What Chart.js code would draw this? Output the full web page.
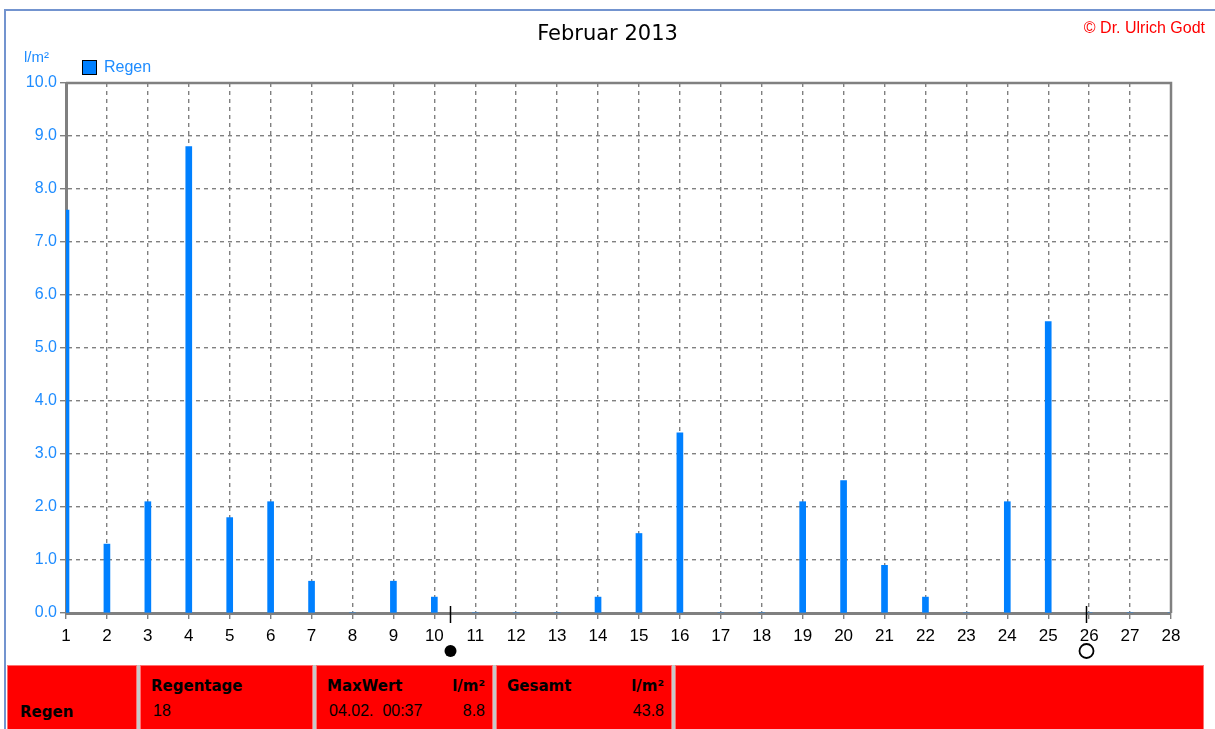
<!DOCTYPE html>
<html>
<head>
<meta charset="utf-8">
<script src="https://cdn.jsdelivr.net/npm/chart.js@4.4.1/dist/chart.umd.min.js"></script>
<style>
  html, body { margin: 0; padding: 0; background: #fff; }
  body { width: 1215px; height: 729px; position: relative; overflow: hidden; font-family: "Liberation Sans", Arial, sans-serif; }
  #frame { position: absolute; left: 4px; top: 9px; width: 1215px; height: 730px; border-left: 2px solid #7394cf; border-top: 2px solid #7394cf; }
  #wrap { position: absolute; left: 0; top: 0; width: 1215px; height: 664px; }
  .txt { position: absolute; white-space: nowrap; }
  #title { left: 0; width: 1215px; text-align: center; top: 21px; font-family: "DejaVu Sans", sans-serif; font-size: 21px; color: #000; }
  #copy { right: 10px; top: 19px; font-size: 16px; color: #ff0000; }
  #unit { left: 24px; top: 48px; font-size: 15px; color: #1e8cff; }
  #legbox { position: absolute; left: 82px; top: 60px; width: 13px; height: 13px; background: #0080ff; border: 1px solid #000; }
  #legtxt { left: 104px; top: 58px; font-size: 16px; color: #1e8cff; }
  #table { position: absolute; left: 7px; top: 665px; width: 1197px; height: 70px; background: #c8c8c8; }
  .cell { position: absolute; top: 0; height: 70px; background: #ff0000; box-sizing: border-box; border: 1px solid #ff7070; }
  .b { position: absolute; font-family: "DejaVu Sans", sans-serif; font-weight: bold; font-size: 15px; color: #000; white-space: pre; }
  .r { position: absolute; font-size: 16px; color: #000; white-space: pre; }
</style>
</head>
<body>
<div id="frame"></div>
<div id="wrap"><canvas id="c" width="1215" height="664"></canvas></div>
<div class="txt" id="title">Februar 2013</div>
<div class="txt" id="copy">© Dr. Ulrich Godt</div>
<div class="txt" id="unit">l/m²</div>
<div id="legbox"></div>
<div class="txt" id="legtxt">Regen</div>
<div id="table"></div>
<script>
// ---- data ----
const days = [1,2,3,4,5,6,7,8,9,10,11,12,13,14,15,16,17,18,19,20,21,22,23,24,25,26,27,28];
const regen = [7.6,1.3,2.1,8.8,1.8,2.1,0.6,0,0.6,0.3,0,0,0,0.3,1.5,3.4,0,0,2.1,2.5,0.9,0.3,0,2.1,5.5,0,0,0];
const moonDays = [10.38, 25.92];
const moonTypes = ['new', 'full'];
const tableCells = [
  { left: 0, right: 130, head: '', unit: '', line: '', value: '', label: 'Regen' },
  { left: 133, right: 306, head: 'Regentage', unit: '', line: '18', value: '', label: '' },
  { left: 309, right: 486, head: 'MaxWert', unit: 'l/m²', line: '04.02.  00:37', value: '8.8', label: '' },
  { left: 489, right: 665, head: 'Gesamt', unit: 'l/m²', line: '', value: '43.8', label: '' },
  { left: 668, right: 1197, head: '', unit: '', line: '', value: '', label: '' }
];

// ---- table ----
const tbl = document.getElementById('table');
tableCells.forEach(c => {
  const d = document.createElement('div');
  d.className = 'cell';
  d.style.left = c.left + 'px';
  d.style.width = (c.right - c.left) + 'px';
  const add = (cls, text, css) => {
    if (!text) return;
    const s = document.createElement('div');
    s.className = cls; s.textContent = text;
    Object.assign(s.style, css); d.appendChild(s);
  };
  add('b', c.label, { left: '12px', top: '37px' });
  add('b', c.head, { left: '10px', top: '11px' });
  add('b', c.unit, { right: '7px', top: '11px' });
  add('r', c.line, { left: '12px', top: '36px' });
  add('r', c.value, { right: '7px', top: '36px' });
  tbl.appendChild(d);
});

// ---- chart ----
const gray = '#808080';
const framePlugin = {
  id: 'framePlugin',
  afterDraw(chart) {
    const { ctx, chartArea: a, scales } = chart;
    ctx.save();
    ctx.strokeStyle = gray;
    ctx.lineWidth = 2.5;
    ctx.beginPath();
    ctx.moveTo(a.left, a.top); ctx.lineTo(a.right, a.top); ctx.lineTo(a.right, a.bottom);
    ctx.stroke();
    // moon phases
    moonDays.forEach((d, i) => {
      const x = Math.round(scales.x.getPixelForValue(d)) + 0.5;
      ctx.strokeStyle = '#000';
      ctx.lineWidth = 1.5;
      ctx.beginPath();
      ctx.moveTo(x, a.bottom - 7); ctx.lineTo(x, a.bottom + 10);
      ctx.stroke();
      ctx.beginPath();
      ctx.arc(x, a.bottom + 38, moonTypes[i] === 'new' ? 6 : 7, 0, Math.PI * 2);
      if (moonTypes[i] === 'new') { ctx.fillStyle = '#000'; ctx.fill(); }
      else { ctx.lineWidth = 1.8; ctx.stroke(); }
    });
    ctx.restore();
  }
};

new Chart(document.getElementById('c'), {
  type: 'bar',
  data: {
    datasets: [{
      label: 'Regen',
      data: days.map((d, i) => ({ x: d, y: regen[i] })),
      backgroundColor: '#0080ff',
      borderWidth: 0,
      barThickness: 6
    }]
  },
  options: {
    responsive: false,
    animation: false,
    events: [],
    layout: { padding: { left: 0, top: 83, right: 44, bottom: 0 } },
    plugins: { legend: { display: false }, title: { display: false }, tooltip: { enabled: false } },
    scales: {
      x: {
        type: 'linear',
        min: 1, max: 28,
        offset: false,
        afterFit(s) { s.height = 51; },
        ticks: {
          stepSize: 1,
          autoSkip: false,
          maxRotation: 0,
          color: '#000',
          padding: 7,
          font: { family: 'Liberation Sans', size: 17 },
          callback: v => String(v)
        },
        grid: { offset: false, color: gray, lineWidth: 1.4, tickLength: 6, tickColor: gray, tickWidth: 1.4, tickBorderDash: [] },
        border: { display: true, color: gray, width: 3, dash: [4, 4] }
      },
      y: {
        min: 0, max: 10,
        afterFit(s) { s.width = 66; },
        ticks: {
          stepSize: 1,
          color: '#1e8cff',
          padding: 3,
          font: { family: 'Liberation Sans', size: 16 },
          callback: v => Number(v).toFixed(1)
        },
        grid: { color: gray, lineWidth: 1.4, tickLength: 6, tickColor: gray, tickWidth: 1.4, tickBorderDash: [] },
        border: { display: true, color: gray, width: 3, dash: [4, 4] }
      }
    }
  },
  plugins: [framePlugin]
});
</script>
</body>
</html>
